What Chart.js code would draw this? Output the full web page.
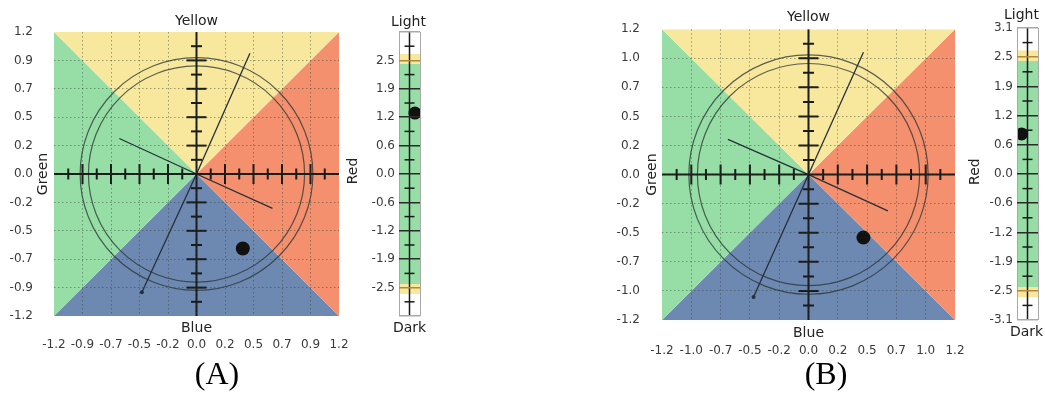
<!DOCTYPE html>
<html><head><meta charset="utf-8">
<script src="https://cdn.jsdelivr.net/npm/chart.js@4.4.0/dist/chart.umd.min.js"></script>
<style>
html,body{margin:0;padding:0;background:#fff;width:1045px;height:394px;overflow:hidden;position:relative}
canvas{position:absolute;top:0}
.cap{position:absolute;font-family:'Liberation Serif','Times New Roman',serif;font-size:32px;color:#000;transform:translateX(-50%);top:353px;line-height:40px;white-space:nowrap}
</style></head><body>
<canvas id="pa" width="380" height="394" style="left:0px"></canvas>
<canvas id="ba" width="80" height="394" style="left:360px"></canvas>
<canvas id="pb" width="400" height="394" style="left:590px"></canvas>
<canvas id="bb" width="70" height="394" style="left:975px"></canvas>
<div class="cap" style="left:217px">(A)</div>
<div class="cap" style="left:826px">(B)</div>
<script>
// ---------- data ----------
const planeTickValues = [-1.2,-0.96,-0.72,-0.48,-0.24,0,0.24,0.48,0.72,0.96,1.2];
const planeTickLabelsA = ['-1.2','-0.9','-0.7','-0.5','-0.2','0.0','0.2','0.5','0.7','0.9','1.2'];
const planeTickLabelsB = ['-1.2','-1.0','-0.7','-0.5','-0.2','0.0','0.2','0.5','0.7','1.0','1.2'];
const crossLongTicks = [-0.96,-0.72,-0.48,-0.24,0.24,0.48,0.72,0.96];
const crossShortTicks = [-1.08,-0.84,-0.6,-0.36,-0.12,0.12,0.36,0.6,0.84,1.08];
const circleRadii = [0.98, 0.91];
const vectorA = [{x:0.45,y:1.02},{x:0,y:0},{x:-0.46,y:-1.0}];
const vectorA2 = [{x:-0.65,y:0.30},{x:0,y:0},{x:0.64,y:-0.29}];
const vectorB = [{x:0.45,y:1.01},{x:0,y:0},{x:-0.45,y:-1.01}];
const vectorB2 = [{x:-0.66,y:0.29},{x:0,y:0},{x:0.65,y:-0.30}];
const pointA = [{x:0.39,y:-0.63}];
const pointB = [{x:0.45,y:-0.52}];
const sectorYellow = [{x:-1.2,y:1.2},{x:1.2,y:1.2},{x:0,y:0},{x:-1.2,y:1.2}];
const sectorGreen = [{x:-1.2,y:1.2},{x:0,y:0},{x:-1.2,y:-1.2},{x:-1.2,y:1.2}];
const sectorRed = [{x:1.2,y:1.2},{x:1.2,y:-1.2},{x:0,y:0},{x:1.2,y:1.2}];
const sectorBlue = [{x:-1.2,y:-1.2},{x:0,y:0},{x:1.2,y:-1.2},{x:-1.2,y:-1.2}];

const barTickValues = [-3.1,-2.48,-1.86,-1.24,-0.62,0,0.62,1.24,1.86,2.48,3.1];
const barTickLabelsA = ['','-2.5','-1.9','-1.2','-0.6','0.0','0.6','1.2','1.9','2.5',''];
const barTickLabelsB = ['-3.1','-2.5','-1.9','-1.2','-0.6','0.0','0.6','1.2','1.9','2.5','3.1'];
const barShortTicks = [-2.79,-2.17,-1.55,-0.93,-0.31,0.31,0.93,1.55,2.17,2.79];
const barBandEdges = [-3.1,-2.62,-2.4,2.4,2.62,3.1];
const lightnessA = [{x:0.76,y:1.33}];
const lightnessB = [{x:0.22,y:0.85}];

// ---------- styles ----------
const C_YELLOW='#F8E89D', C_GREEN='#96DEA6', C_RED='#F5906F', C_BLUE='#6D89B1';
const bandColors = ['#ffffff', C_YELLOW, '#96DEA6', C_YELLOW, '#ffffff'];
const TICK_FONT = {family:"'DejaVu Sans', sans-serif", size:12};
const TEXT_COLOR = '#3a3a3a';

const titlePlugin = {
  id:'axisTitles',
  afterDraw(chart, args, opts){
    const a = chart.chartArea, ctx = chart.ctx;
    ctx.save();
    ctx.fillStyle = '#222';
    ctx.font = "14px 'DejaVu Sans', sans-serif";
    ctx.textAlign='center'; ctx.textBaseline='middle';
    (opts.items||[]).forEach(it=>{
      const cx=(a.left+a.right)/2, cy=(a.top+a.bottom)/2;
      let x,y,rot=0;
      if(it.side==='top'){x=cx;y=a.top-it.off;}
      else if(it.side==='bottom'){x=cx;y=a.bottom+it.off;}
      else if(it.side==='left'){x=a.left-it.off;y=cy;rot=-Math.PI/2;}
      else {x=a.right+it.off;y=cy;rot=-Math.PI/2;}
      x+=(it.dx||0); y+=(it.dy||0);
      ctx.save(); ctx.translate(x,y); ctx.rotate(rot); ctx.fillText(it.text,0,0); ctx.restore();
    });
    ctx.restore();
  }
};

function sector(data,color){
  return {data, showLine:true, fill:'shape', backgroundColor:color, borderColor:color, borderWidth:0, pointRadius:0, tension:0, order:20};
}
function ticksDS(data, axis, len){
  return {data: data.map(v=> axis==='x'?{x:v,y:0}:{x:0,y:v}), pointStyle:'line', rotation: axis==='x'?90:0,
    pointRadius:len, pointBorderWidth:2, pointBorderColor:'#1a1a1a', pointBackgroundColor:'#1a1a1a', order:3};
}

function makePlane(id, W, H, area, labels, vec1, vec2, pt, offs){
  const radiusFor = r => ctx => { const s=ctx.chart.scales.x; return Math.abs(s.getPixelForValue(r)-s.getPixelForValue(0)); };
  const circles = circleRadii.map(r=>({data:[{x:0,y:0}], pointStyle:'circle', pointRadius:radiusFor(r), pointHoverRadius:radiusFor(r),
      pointBackgroundColor:'rgba(0,0,0,0)', pointBorderColor:'rgba(40,50,50,0.75)', pointBorderWidth:1.2, order:6}));
  const gridColor = c => (c.index===0||c.index===10)?'rgba(0,0,0,0)':'rgba(45,60,45,0.45)';
  new Chart(document.getElementById(id),{
    type:'scatter',
    data:{datasets:[
      sector(sectorYellow,C_YELLOW), sector(sectorGreen,C_GREEN), sector(sectorRed,C_RED), sector(sectorBlue,C_BLUE),
      ...circles,
      {data:vec1, showLine:true, borderColor:'#26303a', borderWidth:1.3, pointRadius:[0,0,2], pointBackgroundColor:'#26303a', pointBorderWidth:0, tension:0, order:5},
      {data:vec2, showLine:true, borderColor:'#26303a', borderWidth:1.3, pointRadius:0, tension:0, order:5},
      {data:[{x:-1.2,y:0},{x:1.2,y:0}], showLine:true, borderColor:'#1a1a1a', borderWidth:2, pointRadius:0, order:4},
      {data:[{x:0,y:-1.2},{x:0,y:1.2}], showLine:true, borderColor:'#1a1a1a', borderWidth:2, pointRadius:0, order:4},
      ticksDS(crossLongTicks,'x',10), ticksDS(crossShortTicks,'x',5.5),
      ticksDS(crossLongTicks,'y',10), ticksDS(crossShortTicks,'y',5.5),
      {data:pt, pointRadius:7, pointBackgroundColor:'#111', pointBorderWidth:0, order:1}
    ]},
    options:{
      responsive:false, animation:false, devicePixelRatio:1,
      layout:{padding:{top:area.t, right:W-area.r, left:0, bottom:0}},
      plugins:{legend:{display:false}, tooltip:{enabled:false}, axisTitles:{items:offs.titles}},
      scales:{
        x:{type:'linear', min:-1.2, max:1.2, position:'bottom',
          afterFit:s=>{s.height=H-area.b;},
          afterBuildTicks:s=>{s.ticks=planeTickValues.map(v=>({value:v}));},
          ticks:{callback:(v,i)=>labels[i], autoSkip:false, maxRotation:0, minRotation:0, padding:offs.xpad, font:TICK_FONT, color:TEXT_COLOR},
          grid:{color:gridColor, lineWidth:1, drawTicks:false, z:1},
          border:{display:false, dash:[1.5,2.5]}},
        y:{type:'linear', min:-1.2, max:1.2, position:'left',
          afterFit:s=>{s.width=area.l;},
          afterBuildTicks:s=>{s.ticks=planeTickValues.map(v=>({value:v}));},
          ticks:{callback:(v,i)=>labels[i], autoSkip:false, padding:offs.ypad, font:TICK_FONT, color:TEXT_COLOR},
          grid:{color:gridColor, lineWidth:1, drawTicks:false, z:1},
          border:{display:false, dash:[1.5,2.5]}}
      }
    },
    plugins:[titlePlugin]
  });
}

function makeBar(id, W, H, area, labels, dot, titles){
  const bands = [];
  for(let i=0;i<bandColors.length;i++){
    const lo=barBandEdges[i], hi=barBandEdges[i+1];
    bands.push({data:[{x:0,y:lo},{x:1,y:lo},{x:1,y:hi},{x:0,y:hi},{x:0,y:lo}], showLine:true, fill:'shape',
      backgroundColor:bandColors[i], borderColor:bandColors[i], borderWidth:0, pointRadius:0, tension:0, order:20});
  }
  const yGrid = c => (c.index===0||c.index===10)?'#a8a8a8':((c.index===1||c.index===9)?'#b08a3a':'#2a2a2a');
  new Chart(document.getElementById(id),{
    type:'scatter',
    data:{datasets:[
      ...bands,
      {data:[{x:0.5,y:-3.1},{x:0.5,y:3.1}], showLine:true, borderColor:'#1a1a1a', borderWidth:1.5, pointRadius:0, order:4},
      {data:barShortTicks.map(v=>({x:0.5,y:v})), pointStyle:'line', pointRadius:5, pointBorderWidth:1.5, pointBorderColor:'#1a1a1a', order:3},
      {data:dot, pointRadius:6.5, pointBackgroundColor:'#111', pointBorderWidth:0, order:1}
    ]},
    options:{
      responsive:false, animation:false, devicePixelRatio:1,
      layout:{padding:{top:area.t, right:W-area.r, left:0, bottom:0}},
      plugins:{legend:{display:false}, tooltip:{enabled:false}, axisTitles:{items:titles}},
      scales:{
        x:{type:'linear', min:0, max:1, position:'bottom',
          afterFit:s=>{s.height=H-area.b;},
          afterBuildTicks:s=>{s.ticks=[{value:0},{value:1}];},
          ticks:{display:false},
          grid:{color:'#a8a8a8', lineWidth:1, drawTicks:false, z:1},
          border:{display:false}},
        y:{type:'linear', min:-3.1, max:3.1, position:'left',
          afterFit:s=>{s.width=area.l;},
          afterBuildTicks:s=>{s.ticks=barTickValues.map(v=>({value:v}));},
          ticks:{callback:(v,i)=>labels[i], autoSkip:false, padding:4, font:TICK_FONT, color:TEXT_COLOR},
          grid:{color:yGrid, lineWidth:1.5, drawTicks:false, z:1},
          border:{display:false}}
      }
    },
    plugins:[titlePlugin]
  });
}

makePlane('pa', 380, 394, {l:54,t:32,r:339,b:316}, planeTickLabelsA, vectorA, vectorA2, pointA,
  {xpad:22, ypad:21, titles:[{text:'Yellow',side:'top',off:11},{text:'Blue',side:'bottom',off:12},{text:'Green',side:'left',off:11},{text:'Red',side:'right',off:14,dy:-3}]});
makePlane('pb', 400, 394, {l:72,t:28,r:365,b:320}, planeTickLabelsB, vectorB, vectorB2, pointB,
  {xpad:24, ypad:22, titles:[{text:'Yellow',side:'top',off:12},{text:'Blue',side:'bottom',off:13},{text:'Green',side:'left',off:10},{text:'Red',side:'right',off:20,dy:-3}]});
makeBar('ba', 80, 394, {l:39,t:32,r:60,b:316}, barTickLabelsA, lightnessA,
  [{text:'Light',side:'top',off:10,dx:-1},{text:'Dark',side:'bottom',off:12}]);
makeBar('bb', 70, 394, {l:42,t:28,r:63,b:320}, barTickLabelsB, lightnessB,
  [{text:'Light',side:'top',off:13,dx:-6},{text:'Dark',side:'bottom',off:12,dx:-1}]);
</script>
</body></html>
